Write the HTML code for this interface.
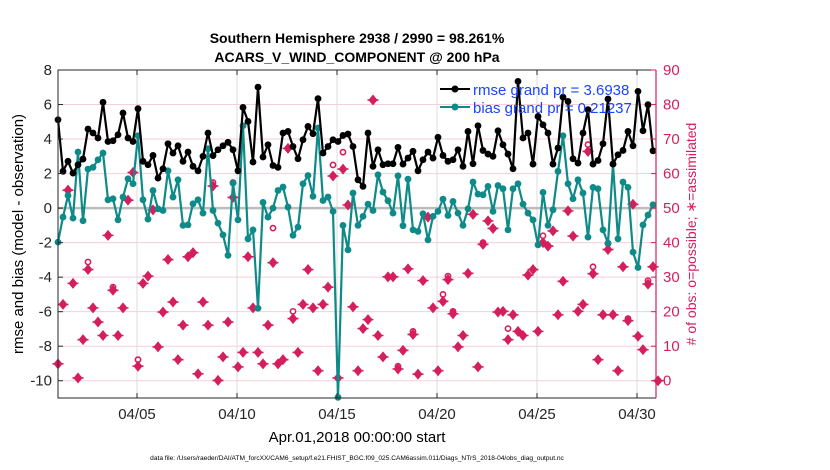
<!DOCTYPE html>
<html><head><meta charset="utf-8"><style>
body{margin:0;background:#fff;}
svg{display:block;font-family:"Liberation Sans",sans-serif;}
</style></head><body>
<svg id="chart" width="830" height="470" viewBox="0 0 830 470">
<text x="357" y="43" text-anchor="middle" font-size="14" font-weight="bold">Southern Hemisphere 2938 / 2990 = 98.261%</text>
<text x="357" y="62" text-anchor="middle" font-size="14" font-weight="bold">ACARS_V_WIND_COMPONENT @ 200 hPa</text>
<g id="grid"></g>
<g id="marks"></g>
<g id="axes"></g>
<text transform="translate(23,234) rotate(-90)" text-anchor="middle" font-size="15">rmse and bias (model - observation)</text>
<text transform="translate(696,234) rotate(-90)" text-anchor="middle" font-size="14" fill="#d41f5c"># of obs: o=possible; ∗=assimilated</text>
<text x="357" y="442" text-anchor="middle" font-size="15">Apr.01,2018 00:00:00 start</text>
<text x="357" y="460" text-anchor="middle" font-size="6.6">data file: /Users/raeder/DAI/ATM_forcXX/CAM6_setup/f.e21.FHIST_BGC.f09_025.CAM6assim.011/Diags_NTrS_2018-04/obs_diag_output.nc</text>
<g>
<g>
<line x1="440" y1="89" x2="470" y2="89" stroke="#000" stroke-width="2"/><circle cx="455" cy="89" r="3.5" fill="#000"/>
<text x="473" y="95" font-size="15" fill="#1a44ff">rmse grand pr = 3.6938</text></g>
<g>
<line x1="440" y1="107" x2="470" y2="107" stroke="#0e8a88" stroke-width="2"/><circle cx="455" cy="107" r="3.5" fill="#0e8a88"/>
<text x="473" y="113" font-size="15" fill="#1a44ff">bias grand pr = 0.21237</text></g>
</g>
</svg>
<script>
const rmse=[5.12,2.13,2.71,2.03,2.51,2.84,4.58,4.35,4.06,6.13,3.86,3.90,4.25,5.51,4.06,3.86,5.76,2.71,2.51,3.05,1.74,2.28,3.73,3.19,3.61,2.71,3.25,2.42,2.16,3.0,4.35,
3.04,3.38,3.61,3.81,3.38,2.16,5.83,5.02,2.67,7.01,2.96,3.67,2.47,2.36,4.35,4.44,3.57,2.86,3.96,4.73,4.31,6.34,3.19,3.57,3.96,3.86,4.21,4.29,3.57,
1.64,1.26,4.35,2.42,3.38,2.51,2.57,2.57,3.52,2.55,2.90,3.29,2.16,2.80,3.25,2.90,4.10,3.05,2.71,2.80,3.38,2.42,4.44,2.57,4.77,3.34,3.13,3.0,4.48,
3.67,3.13,2.28,7.34,4.06,4.35,2.55,5.31,4.83,4.35,2.55,3.48,6.43,6.18,2.86,2.61,4.35,5.70,2.55,2.76,3.73,6.32,2.55,3.09,3.34,4.44,3.61,6.76,4.48,5.99,3.32];
const bias=[-1.97,-0.52,0.73,-0.58,3.25,-0.73,2.26,2.36,2.80,3.19,0.48,0.54,-0.68,0.64,1.70,1.41,4.19,0.48,-0.64,1.02,-0.04,-0.14,2.16,0.64,1.64,-1.0,-0.97,0.25,0.48,-0.29,3.44,
-0.14,-0.87,-1.55,-2.74,1.45,-0.68,4.77,-1.78,-1.26,-5.80,0.33,-0.52,0,1.02,1.22,0.06,-1.58,-1.10,1.41,1.89,0.68,4.64,0.44,0.64,-0.19,-10.96,-1.0,-2.42,0.87,
-1.0,-0.48,0.23,-0.14,1.93,0.93,0.43,-0.29,1.87,-1.02,1.68,-1.26,-1.35,-0.33,-1.84,-0.48,-0.19,0.52,-0.43,0.39,-0.29,-1.0,-0.04,1.51,0.81,0.77,1.26,-0.19,1.31,
1.12,-1.26,1.12,1.41,0.23,-0.29,-0.68,-2.13,0.91,-1.0,-0.10,2.13,4.19,1.41,0.54,1.64,0.87,-1.68,1.20,1.12,-1.26,-2.03,2.55,-1.78,1.51,1.20,-2.55,-3.44,-0.97,-0.4,0.19];
const assimilated=[4.9,22.1,55.2,28.2,0.8,11.9,32.2,21.1,17.0,13.1,42.1,26.2,13.1,21.1,52.3,60.3,4.2,28.2,30.3,49.5,9.8,19.9,35.1,22.8,6.1,16.1,35.9,37.1,2.0,22.8,16.1,
56.4,0.1,6.9,17.0,53.1,4.0,8.2,35.9,21.1,8.2,4.9,16.1,34.2,4.9,6.1,67.3,18.0,8.2,22.1,32.2,21.1,2.9,22.1,27.1,59.3,0.8,61.3,50.9,21.4,
2.9,15.1,17.7,81.3,13.1,6.9,30.1,30.1,3.4,8.8,32.4,13.4,1.9,29.0,47.4,21.1,2.9,23.0,29.3,19.4,9.8,13.1,31.1,48.2,4.0,39.5,46.3,44.1,19.9,
20.1,11.9,19.1,14.3,13.1,30.6,32.2,14.3,40.0,39.0,43.4,19.1,28.8,49.2,41.9,20.1,22.1,66.4,31.0,6.1,19.1,38.0,19.1,2.9,33.0,17.4,51.1,12.9,9.0,28,33,0];
const possible=[4.9,22.1,55.2,28.2,0.8,11.9,34.4,21.1,17.0,13.1,42.1,27.1,13.1,21.1,52.3,60.3,6.1,28.2,30.3,49.5,9.8,19.9,35.1,22.8,6.1,16.1,35.9,37.1,2.0,22.8,16.1,
57.4,0.1,6.9,17.0,57.4,4.0,8.2,35.9,21.1,8.2,4.9,16.1,44.2,4.9,6.1,67.3,20.1,8.2,22.1,32.2,21.1,2.9,22.1,27.1,62.5,0.8,66.2,50.9,21.4,
2.9,15.1,17.7,81.3,13.1,6.9,30.1,30.1,4.2,8.8,32.4,14.3,1.9,29.0,47.4,21.1,2.9,25.0,30.3,20.1,9.8,13.1,31.1,48.2,4.0,40.0,46.3,44.1,19.9,
20.1,15.1,19.1,14.3,13.1,30.6,32.2,14.3,42.0,39.0,43.4,19.1,28.8,49.2,41.9,20.1,22.1,68.4,33.0,6.1,19.1,39.7,19.1,2.9,33.0,18.0,51.1,12.9,9.0,29,33,0];
const xTickDays=[5,10,15,20,25,30];
const xTickLabels=["04/05","04/10","04/15","04/20","04/25","04/30"];
const leftTicks=[8,6,4,2,0,-2,-4,-6,-8,-10];
const rightTicks=[0,10,20,30,40,50,60,70,80,90];

const NS="http://www.w3.org/2000/svg";
const X0=58,X1=656,Y0=70,Y1=398;
const DAY0=1.05, STEP=0.25, DAYS_END=30.95;
function xDay(d){return X0+(d-DAY0)/(DAYS_END-DAY0)*(X1-X0);}
function xIdx(i){return xDay(DAY0+i*STEP);}
function yL(v){return Y1-(v-(-11))/(8-(-11))*(Y1-Y0);}
function yR(v){return Y1-(v-(-5))/(90-(-5))*(Y1-Y0);}
function mk(tag,attrs,parent){const e=document.createElementNS(NS,tag);for(const k in attrs)e.setAttribute(k,attrs[k]);parent.appendChild(e);return e;}
const grid=document.getElementById('grid'),marks=document.getElementById('marks'),axes=document.getElementById('axes');
const PINK="#d41f5c",TEAL="#0e8a88";

xTickDays.forEach(d=>{const l=mk('line',{x1:xDay(d),x2:xDay(d),y1:Y0,y2:Y1,stroke:'#dcdcdc','stroke-width':1},grid);

});
rightTicks.forEach(v=>{const l=mk('line',{x1:X0,x2:X1,y1:yR(v),y2:yR(v),stroke:'#f6cfdc','stroke-width':1},grid);

});
const z=mk('line',{x1:X0,x2:X1,y1:yL(0),y2:yL(0),stroke:'#bcbcbc','stroke-width':2.5},grid);



// possible circles
possible.forEach((v,i)=>{const c=mk('circle',{cx:xIdx(i),cy:yR(v),r:2.6,fill:'#fff',stroke:PINK,'stroke-width':1.6},marks);

});
// assimilated stars
assimilated.forEach((v,i)=>{const x=xIdx(i),y=yR(v);
const p=mk('path',{d:`M${x} ${y-5.5}L${x+4.5} ${y}L${x} ${y+5.5}L${x-4.5} ${y}Z M${x-5.5} ${y-0.8}h11v1.6h-11Z`,fill:PINK},marks);

});

function series(vals,color,name){
  const pts=vals.map((v,i)=>xIdx(i).toFixed(2)+','+yL(v).toFixed(2)).join(' ');
  const pl=mk('polyline',{points:pts,fill:'none',stroke:color,'stroke-width':2.2,'stroke-linejoin':'round'},marks);
  
  
  vals.forEach((v,i)=>{const c=mk('circle',{cx:xIdx(i),cy:yL(v),r:3.4,fill:color},marks);
  
  });
}
series(bias,TEAL,'bias');
series(rmse,'#000','rmse');

// frame
mk('path',{d:`M${X1} ${Y0}H${X0}V${Y1}H${X1}`,fill:'none',stroke:'#262626','stroke-width':1},axes);
const ra=mk('line',{x1:X1,x2:X1,y1:Y0,y2:Y1,stroke:PINK,'stroke-width':1.2},axes);


leftTicks.forEach(v=>{mk('line',{x1:X0,x2:X0+5,y1:yL(v),y2:yL(v),stroke:'#262626'},axes);
const t=mk('text',{x:X0-6,y:yL(v)+5,'text-anchor':'end','font-size':15,fill:'#262626'},axes);t.textContent=v;

});
rightTicks.forEach(v=>{mk('line',{x1:X1-5,x2:X1,y1:yR(v),y2:yR(v),stroke:PINK},axes);
const t=mk('text',{x:X1+7,y:yR(v)+5,'font-size':15,fill:PINK},axes);t.textContent=v;

});
xTickDays.forEach((d,k)=>{mk('line',{x1:xDay(d),x2:xDay(d),y1:Y1,y2:Y1-5,stroke:'#262626'},axes);
mk('line',{x1:xDay(d),x2:xDay(d),y1:Y0,y2:Y0+5,stroke:'#262626'},axes);
const t=mk('text',{x:xDay(d),y:419,'text-anchor':'middle','font-size':15,fill:'#262626'},axes);t.textContent=xTickLabels[k];

});
</script>
</body></html>
